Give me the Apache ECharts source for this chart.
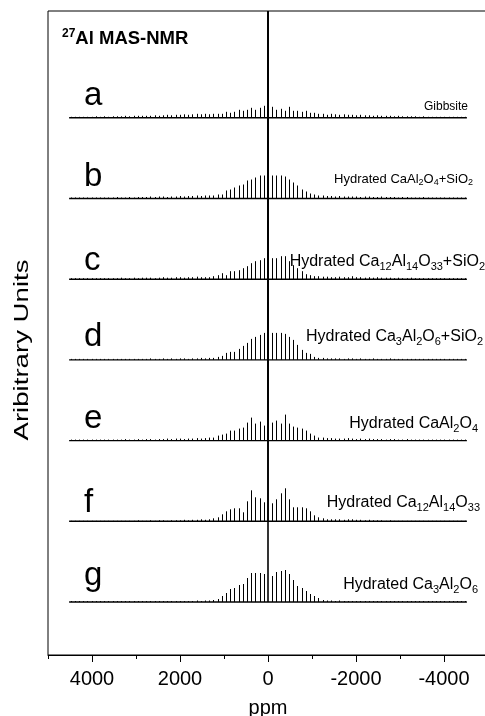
<!DOCTYPE html>
<html>
<head>
<meta charset="utf-8">
<script src="https://cdn.jsdelivr.net/npm/echarts@6/dist/echarts.min.js"></script>
<style>
  html, body { margin: 0; padding: 0; background: #fff; }
  #chart { width: 485px; height: 716px; }
</style>
</head>
<body>
<div id="chart"></div>
<script>
// spinning sideband spacing (ppm) and highest sideband order on each side
const SPIN = 95.5
const ORDER_MAX = 47

// sample letters and names (rich text for subscripts)
const sampleKeys = ['a', 'b', 'c', 'd', 'e', 'f', 'g']
const sampleNames = [
  '{t|Gibbsite}',
  '{m|Hydrated CaAl}{ms|2}{m|O}{ms|4}{m|+SiO}{ms|2}',
  '{n|Hydrated Ca}{s|12}{n|Al}{s|14}{n|O}{s|33}{n|+SiO}{s|2}',
  '{n|Hydrated Ca}{s|3}{n|Al}{s|2}{n|O}{s|6}{n|+SiO}{s|2}',
  '{n|Hydrated CaAl}{s|2}{n|O}{s|4}',
  '{n|Hydrated Ca}{s|12}{n|Al}{s|14}{n|O}{s|33}',
  '{n|Hydrated Ca}{s|3}{n|Al}{s|2}{n|O}{s|6}'
]

// sideband intensities, order +47 ... 0 ... -47 (high ppm -> low ppm), centre band off scale
const gibbsite = [1,1,1,1,1,1,1.5,1, 1.5,1,1.5,1.5,1.5,2,1.5,2,2,2, 2,2,2.5,2,2.5,3,2.5,3,3,3.5,3,3.5,4,3.5,4,
  3.5,4,4,4,6,5,6,8,7,8,10,8,10,12, 300, 11,8,9,7,11,7,7,6,7,5,5,4,4,3,
  4,3.5,3,3.5,3,3,2.5,3,2.5,2.5, 2,2.5,2,2,2,1.5,2,1.5,1.5,1.5, 1.5,1,1.5,1,1,1,1,1,1,1,1,1,1]
const caAl2O4Si = [1,1,1,1,1,1,1,1, 1,1,1,1.5,1,1,1.5,1,1.5,1.5, 1.5,2,1.5,2,2,1.5,2,2,2.5,2,2.5,2.5,3,2.5,3,
  3,3,4,4,8,9,11,13,14,18,19,21,23,23, 300, 23,23,23,22,19,16,13,9,7,5,4,3,3,2.5,
  2.5,2,2.5,2,2,2,2,1.5,2,2, 1.5,1.5,2,1.5,1.5,1.5,1,1.5,1.5,1, 1,1,1.5,1,1,1,1,1,1,1,1,1,1]
const c12a7Si = [1,1,1,1,1,1,1,1, 1,1,1,1,1.5,1,1,1.5,1,1.5, 1.5,1.5,1,1.5,2,1.5,1.5,2,2,1.5,2,2,2.5,2,2,
  2,3,4,6,4,8,8,9,11,13,16,18,19,21, 300, 21,21,23,23,18,14,11,8,5,4,3,3,2.5,2.5,
  2,2,2.5,2,2,3,2,2,1.5,2, 1.5,2,1.5,1.5,1.5,1,1.5,1,1,1.5, 1,1,1,1,1,1,1,1,1,1,1,1,1]
const c3aSi = [1,1,1,1,1,1,1,1, 1,1,1,1,1,1,1,1,1,1, 1,1.5,1,1,1.5,1,1.5,1,1.5,1.5,1,1.5,1.5,2,1.5,
  2,2,3,4,7,8,8,11,14,17,21,23,25,27, 300, 27,27,27,26,23,20,15,10,7,6,3,2,2,1.5,
  1.5,1.5,1.5,1,1.5,1.5,1,1.5,1,1, 1.5,1,1,1,1.5,1,1,1,1,1, 1,1,1,1,1,1,1,1,1,1,1,1,1]
const caAl2O4 = [1,1,1,1,1,1,1,1, 1,1,1,1,1,1.5,1,1,1.5,1, 1.5,1.5,1,1.5,1.5,2,1.5,2,2,1.5,2,2,2.5,2,2.5,
  3,3,5,6,7,10,10,12,13,18,23,17,19,15, 300, 18,20,17,26,17,14,13,12,10,7,5,3,3,2.5,
  2.5,2,2,2,2.5,2,1.5,2,1.5,2, 1.5,1.5,1.5,1,1.5,1.5,1,1,1.5,1, 1,1,1,1,1,1,1,1,1,1,1,1,1]
const c12a7 = [0.5,0.5,0.5,0.5,0.5,0.5,0.5,0.5, 0.5,0.5,0.5,0.5,0.5,0.5,0.5,0.5,1,0.5, 0.5,1,0.5,1,1,0.5,1,1,1,1.5,1,1.5,1.5,2,1.5,
  2,3,4,7,10,12,13,13,9,20,31,24,23,19, 300, 18,22,28,33,22,14,14,14,13,10,6,4,3,2,
  2,2,2,1.5,2,2,1.5,1.5,1,1.5, 1,1,1,0.5,1,0.5,0.5,0.5,0.5,0.5, 0.5,0.5,0.5,0.5,0.5,0.5,0.5,0.5,0.5,0.5,0.5,0.5,0.5]
const c3a = [1,1,1,1,1,1,1,1, 1,1,1,1,1,1,1,1,1,1, 1,1,1,1,1,1,1,1,1,1,1,1,1.5,1,1.5,
  1.5,2,3,6,9,13,14,17,18,24,29,29,29,28, 300, 26,30,31,32,28,22,16,14,11,8,6,4,2,1.5,
  1.5,1,1.5,1,1,1,1,1,1,1, 1,1,1,1,1,1,1,1,1,1, 1,1,1,1,1,1,1,1,1,1,1,1,1]

const spectra = [gibbsite, caAl2O4Si, c12a7Si, c3aSi, caAl2O4, c12a7, c3a]

const majorTicks = [4000, 2000, 0, -2000, -4000]
const minorTicks = [5000, 3000, 1000, -1000, -3000, -5000]

const FONT = '"Liberation Sans", Arial, sans-serif'
const BASE_LOW = 53    // offset of the lowest trace
const STACK_STEP = 80.7
const SPAN = 4520

const chart = echarts.init(document.getElementById('chart'))

const series = []
spectra.forEach((heights, k) => {
  const base = BASE_LOW + (spectra.length - 1 - k) * STACK_STEP
  // baseline of the trace
  series.push({
    type: 'line',
    data: [[SPAN, base], [-SPAN, base]],
    symbol: 'none',
    silent: true,
    lineStyle: { color: '#000', width: 1.4 }
  })
  // one stick per spinning sideband
  series.push({
    type: 'custom',
    clip: true,
    silent: true,
    data: heights.map((h, i) => [(ORDER_MAX - i) * SPIN, h]),
    renderItem: (params, api) => {
      const p0 = api.coord([api.value(0), base])
      const p1 = api.coord([api.value(0), base + api.value(1)])
      const isCentre = api.value(0) === 0
      const x = Math.round(p0[0]) + (isCentre ? 0 : 0.5)
      return {
        type: 'line',
        shape: { x1: x, y1: p0[1], x2: x, y2: p1[1] },
        style: { stroke: '#000', lineWidth: isCentre ? 1.6 : 1 }
      }
    }
  })
})

const richText = {
  t: { fontSize: 12, fontFamily: FONT, fill: '#000', lineHeight: 14 },
  m: { fontSize: 13, fontFamily: FONT, fill: '#000', lineHeight: 17 },
  ms: { fontSize: 9, fontFamily: FONT, fill: '#000', lineHeight: 9, verticalAlign: 'bottom' },
  n: { fontSize: 16, fontFamily: FONT, fill: '#000', lineHeight: 20 },
  s: { fontSize: 11, fontFamily: FONT, fill: '#000', lineHeight: 11, verticalAlign: 'bottom' }
}

// label placement (pixels)
const letterY = [95.5, 176.5, 260.5, 336.5, 418.5, 502.5, 575.5]
const nameRight = [468, 473, 485, 483, 478, 480, 478]
const nameY = [107, 179, 262, 337, 424, 503, 585]

const graphic = []
sampleKeys.forEach((key, k) => {
  graphic.push({
    type: 'text', x: 84, y: letterY[k], silent: true,
    style: { text: key, fontSize: 33, fontFamily: FONT, fill: '#000', verticalAlign: 'middle' }
  })
  graphic.push({
    type: 'text', x: nameRight[k], y: nameY[k], silent: true,
    style: { text: sampleNames[k], rich: richText, align: 'right', verticalAlign: 'middle' }
  })
})
graphic.push({
  type: 'text', x: 62, y: 39, silent: true,
  style: {
    text: '{sup|27}{b|Al MAS-NMR}',
    verticalAlign: 'middle',
    rich: {
      sup: { fontSize: 12, fontWeight: 'bold', fontFamily: FONT, fill: '#000', lineHeight: 12, verticalAlign: 'top' },
      b: { fontSize: 18.5, fontWeight: 'bold', fontFamily: FONT, fill: '#000', lineHeight: 22 }
    }
  }
})
// y axis title, stretched along its length like the original
graphic.push({
  type: 'text', x: 22, y: 350, rotation: Math.PI / 2, scaleX: 1.38, silent: true,
  style: {
    text: 'Aribitrary Units', fontSize: 20, fontFamily: FONT, fill: '#000',
    align: 'center', verticalAlign: 'middle'
  }
})

const option = {
  animation: false,
  backgroundColor: '#fff',
  grid: {
    left: 48, top: 11, width: 440, bottom: 61,
    outerBoundsMode: 'none',
    containLabel: false,
    show: true, borderColor: '#000', borderWidth: 1, backgroundColor: 'transparent'
  },
  xAxis: [
    {
      type: 'value', min: -5000, max: 5000, inverse: true, position: 'bottom',
      name: 'ppm', nameLocation: 'middle', nameGap: 43,
      nameTextStyle: { fontSize: 20, fontFamily: FONT, color: '#000' },
      axisLine: { show: true, lineStyle: { color: '#000', width: 1 } },
      axisTick: { show: true, customValues: majorTicks, length: 7, lineStyle: { color: '#000' } },
      axisLabel: {
        customValues: majorTicks, fontSize: 20, fontFamily: FONT, color: '#000', margin: 14,
        formatter: (v) => String(v)
      },
      splitLine: { show: false }
    },
    {
      type: 'value', min: -5000, max: 5000, inverse: true, position: 'bottom',
      axisLine: { show: false },
      axisTick: { show: true, customValues: minorTicks, length: 4, lineStyle: { color: '#000' } },
      axisLabel: { show: false },
      splitLine: { show: false }
    }
  ],
  yAxis: {
    type: 'value', min: 0, max: 644,
    axisLine: { show: false }, axisTick: { show: false }, axisLabel: { show: false },
    splitLine: { show: false }
  },
  graphic: graphic,
  series: series
}

chart.setOption(option)
</script>
</body>
</html>
